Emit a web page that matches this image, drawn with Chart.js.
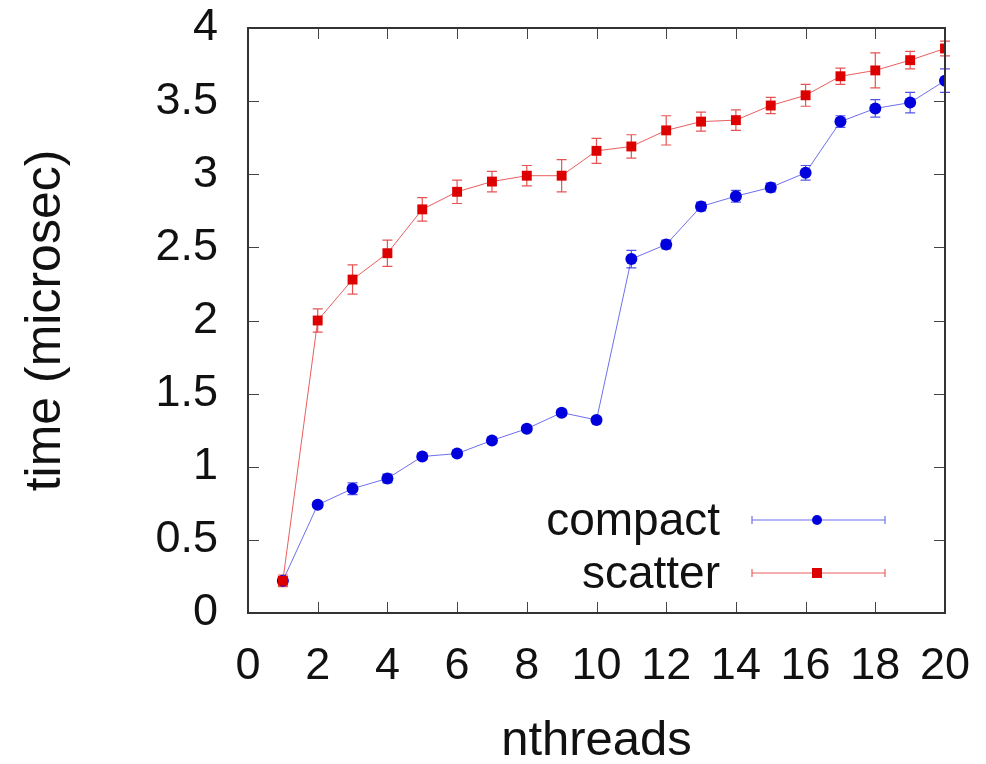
<!DOCTYPE html>
<html>
<head>
<meta charset="utf-8">
<script src="https://cdn.jsdelivr.net/npm/chart.js@4.4.1/dist/chart.umd.min.js"></script>
<style>
  body { margin: 0; background: #fff; }
  #wrap { width: 986px; height: 764px; position: relative; }
</style>
</head>
<body>
<div id="wrap"><canvas id="timeChart"></canvas></div>
<script>
// data
const nthreads = [1, 2, 3, 4, 5, 6, 7, 8, 9, 10, 11, 12, 13, 14, 15, 16, 17, 18, 19, 20];
const compactTime = [0.22, 0.74, 0.85, 0.92, 1.07, 1.09, 1.18, 1.26, 1.37, 1.32, 2.42, 2.52, 2.78, 2.85, 2.91, 3.01, 3.36, 3.45, 3.49, 3.64];
const compactErr = [0.02, 0.02, 0.04, 0.03, 0.02, 0.02, 0.02, 0.02, 0.02, 0.02, 0.06, 0.03, 0.03, 0.04, 0.03, 0.05, 0.04, 0.06, 0.07, 0.08];
const scatterTime = [0.22, 2.0, 2.28, 2.46, 2.76, 2.88, 2.95, 2.99, 2.99, 3.16, 3.19, 3.30, 3.36, 3.37, 3.47, 3.54, 3.67, 3.71, 3.78, 3.86];
const scatterErr = [0.04, 0.08, 0.1, 0.09, 0.08, 0.08, 0.07, 0.07, 0.11, 0.085, 0.08, 0.1, 0.065, 0.07, 0.055, 0.075, 0.055, 0.12, 0.06, 0.05];
const seriesNames = ['compact', 'scatter'];
const xTicks = [0, 2, 4, 6, 8, 10, 12, 14, 16, 18, 20];
const yTicks = [0, 0.5, 1, 1.5, 2, 2.5, 3, 3.5, 4];

const FONT = "'Liberation Sans', Arial, sans-serif";
const blue = '#0000dd';
const red = '#dd0000';

const toPoints = (ys) => ys.map((y, i) => ({ x: nthreads[i], y: y }));

// error bars drawn under the markers
const errorBars = {
    id: 'errorBars',
    beforeDatasetsDraw(chart) {
        const { ctx, scales: { x, y } } = chart;
        chart.data.datasets.forEach((ds) => {
            ctx.save();
            ctx.strokeStyle = ds.errColor;
            ctx.lineWidth = 1.2;
            ds.data.forEach((p, i) => {
                const px = x.getPixelForValue(p.x);
                const top = y.getPixelForValue(p.y + ds.err[i]);
                const bot = y.getPixelForValue(p.y - ds.err[i]);
                ctx.beginPath();
                ctx.moveTo(px, top); ctx.lineTo(px, bot);
                ctx.moveTo(px - 5, top); ctx.lineTo(px + 5, top);
                ctx.moveTo(px - 5, bot); ctx.lineTo(px + 5, bot);
                ctx.stroke();
            });
            ctx.restore();
        });
    }
};

// gnuplot style frame with inward ticks on all sides
const frame = {
    id: 'frame',
    afterDraw(chart) {
        const { ctx, chartArea: a, scales: { x, y } } = chart;
        ctx.save();
        ctx.strokeStyle = '#444';
        ctx.lineWidth = 1;
        ctx.beginPath();
        xTicks.forEach((v) => {
            const px = Math.round(x.getPixelForValue(v)) + 0.5;
            ctx.moveTo(px, a.bottom); ctx.lineTo(px, a.bottom - 11);
            ctx.moveTo(px, a.top); ctx.lineTo(px, a.top + 11);
        });
        yTicks.forEach((v) => {
            const py = Math.round(y.getPixelForValue(v)) + 0.5;
            ctx.moveTo(a.left, py); ctx.lineTo(a.left + 11, py);
            ctx.moveTo(a.right, py); ctx.lineTo(a.right - 11, py);
        });
        ctx.stroke();
        ctx.strokeStyle = '#333';
        ctx.lineWidth = 2;
        ctx.strokeRect(a.left, a.top, a.right - a.left, a.bottom - a.top);
        ctx.restore();
    }
};

// key in the lower right corner of the plot
const keyBox = {
    id: 'keyBox',
    afterDraw(chart) {
        const { ctx, chartArea: a } = chart;
        ctx.save();
        ctx.font = '46px ' + FONT;
        ctx.textAlign = 'right';
        ctx.textBaseline = 'middle';
        seriesNames.forEach((name, i) => {
            const ds = chart.data.datasets[i];
            const yy = a.bottom - 93 + i * 53;
            const x0 = a.right - 193, x1 = a.right - 60, xm = a.right - 128;
            ctx.fillStyle = '#111';
            ctx.fillText(name, a.right - 225, yy + 2);
            ctx.strokeStyle = ds.borderColor;
            ctx.lineWidth = 1.2;
            ctx.beginPath();
            ctx.moveTo(x0, yy); ctx.lineTo(x1, yy);
            ctx.moveTo(x0, yy - 4); ctx.lineTo(x0, yy + 4);
            ctx.moveTo(x1, yy - 4); ctx.lineTo(x1, yy + 4);
            ctx.stroke();
            ctx.fillStyle = ds.pointBackgroundColor;
            if (ds.pointStyle === 'rect') {
                ctx.fillRect(xm - 5, yy - 5, 10, 10);
            } else {
                ctx.beginPath();
                ctx.arc(xm, yy, 5, 0, Math.PI * 2);
                ctx.fill();
            }
        });
        ctx.restore();
    }
};

const noOverflow = (s) => {
    s.paddingLeft = 0; s.paddingRight = 0; s.paddingTop = 0; s.paddingBottom = 0;
};

const ctx = document.getElementById('timeChart').getContext('2d');
const timeChart = new Chart(ctx, {
    type: 'line',
    data: {
        datasets: [{
            label: seriesNames[0],
            data: toPoints(compactTime),
            err: compactErr,
            errColor: 'rgba(40,40,230,0.8)',
            borderColor: 'rgba(50,50,230,0.7)',
            borderWidth: 1,
            pointStyle: 'circle',
            pointRadius: 6,
            pointBorderWidth: 0,
            pointBackgroundColor: blue,
            order: 2
        }, {
            label: seriesNames[1],
            data: toPoints(scatterTime),
            err: scatterErr,
            errColor: 'rgba(225,40,40,0.8)',
            borderColor: 'rgba(225,40,40,0.75)',
            borderWidth: 1,
            pointStyle: 'rect',
            pointRadius: 7,
            pointBorderWidth: 0,
            pointBackgroundColor: red,
            order: 1
        }]
    },
    options: {
        responsive: true,
        maintainAspectRatio: false,
        animation: false,
        layout: { padding: { top: 28, right: 41, left: 0, bottom: 0 } },
        plugins: {
            legend: { display: false },
            tooltip: { enabled: false }
        },
        scales: {
            x: {
                type: 'linear',
                min: 0, max: 20,
                afterBuildTicks: (s) => { s.ticks = xTicks.map(v => ({ value: v })); },
                afterFit: (s) => { s.height = 151; noOverflow(s); },
                grid: { display: false, drawTicks: false },
                border: { display: false },
                ticks: { padding: 27, color: '#111', font: { family: FONT, size: 45 }, maxRotation: 0 },
                title: { display: true, text: 'nthreads', color: '#111', font: { family: FONT, size: 49 }, padding: { top: 10, bottom: -7 } }
            },
            y: {
                min: 0, max: 4,
                afterBuildTicks: (s) => { s.ticks = yTicks.map(v => ({ value: v })); },
                afterFit: (s) => { s.width = 248; noOverflow(s); },
                grid: { display: false, drawTicks: false },
                border: { display: false },
                ticks: { padding: 30, color: '#111', font: { family: FONT, size: 45 }, callback: (v) => String(v) },
                title: { display: true, text: 'time (microsec)', color: '#111', font: { family: FONT, size: 50 }, padding: { top: 16, bottom: 0 } }
            }
        }
    },
    plugins: [errorBars, frame, keyBox]
});
</script>
</body>
</html>
